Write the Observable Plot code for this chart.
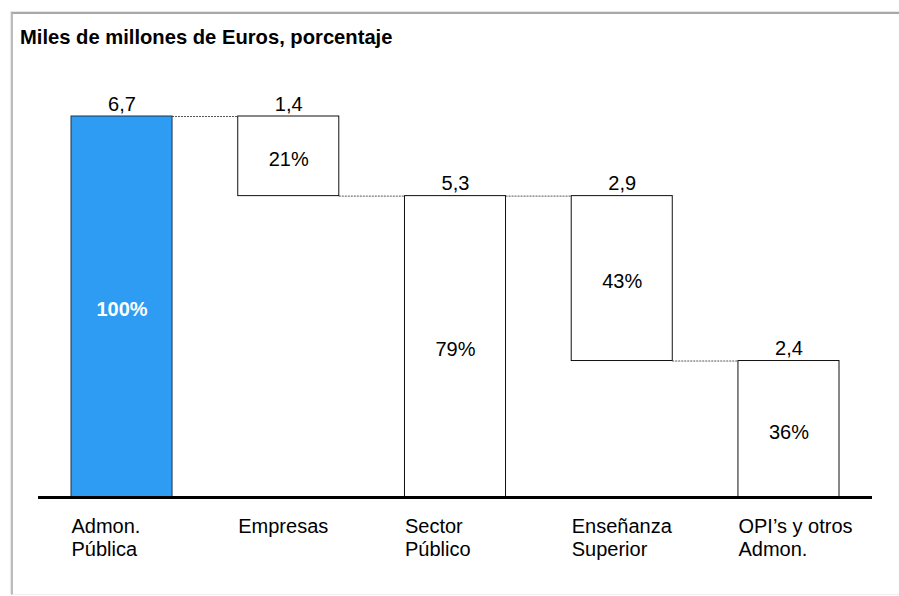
<!DOCTYPE html>
<html>
<head>
<meta charset="utf-8">
<script src="https://cdn.jsdelivr.net/npm/d3@7"></script>
<script src="https://cdn.jsdelivr.net/npm/@observablehq/plot@0.6"></script>
<style>
  html, body { margin: 0; padding: 0; background: #fff; }
  #wrap { position: relative; width: 899px; height: 596px; overflow: hidden; font-family: "Liberation Sans", Arial, Helvetica, sans-serif; }
  #frame { position: absolute; left: 11px; top: 12px; width: 900px; height: 580px;
           border-top: 2px solid #a8a8a8; border-left: 2px solid #bcbcbc; border-bottom: 1px solid #f0f0f0;
           box-shadow: -1px -1px 0 #e8e8e8; }
  #title { position: absolute; left: 20px; top: 26px; font-weight: bold; font-size: 20.2px; color: #000; white-space: nowrap; }
  #chart { position: absolute; left: 0; top: 60px; }
</style>
</head>
<body>
<div id="wrap">
  <div id="frame"></div>
  <div id="title">Miles de millones de Euros, porcentaje</div>
  <div id="chart"></div>
</div>
<script>
const categories = ["Admon.\nPública", "Empresas", "Sector\nPúblico", "Enseñanza\nSuperior", "OPI’s y otros\nAdmon."];
const values = [6.7, 1.4, 5.3, 2.9, 2.4];
const bottoms = [0, 5.3, 0, 2.4, 0];
const percents = ["100%", "21%", "79%", "43%", "36%"];
// connectors: [from category index, to category index, level]
const connectors = [[0, 1, 6.7], [1, 2, 5.3], [2, 3, 5.3], [3, 4, 2.4]];

const bars = categories.map((c, i) => ({
  cat: c, y1: bottoms[i], y2: bottoms[i] + values[i], value: values[i], pct: percents[i], total: i === 0
}));
const links = connectors.map(([a, b, lvl]) => ({ x1: categories[a], x2: categories[b], y: lvl }));
const fmt = v => String(v).replace(".", ",");
const bw = (839 - 71) / (5 - 0.394) * (1 - 0.394);

const plot = Plot.plot({
  width: 899,
  height: 536,
  marginLeft: 38,
  marginRight: 27,
  marginTop: 56,
  marginBottom: 99,
  style: { fontFamily: "'Liberation Sans', Arial, Helvetica, sans-serif", background: "transparent" },
  x: { type: "band", domain: categories, range: [71, 839], paddingInner: 0.394, paddingOuter: 0, round: false, axis: null },
  y: { domain: [0, 6.7], axis: null },
  marks: [
    Plot.ruleY(links, { y: "y", x1: "x1", x2: "x2", insetLeft: bw, insetRight: 0, stroke: "#555", strokeWidth: 1, strokeDasharray: "2,1" }),
    Plot.rectY(bars, { x: "cat", y1: "y1", y2: "y2", fill: d => d.total ? "#2D9CF2" : "#ffffff", stroke: d => d.total ? "#1d3550" : "#111", strokeWidth: 1 }),
    Plot.ruleY([0], { stroke: "#000", strokeWidth: 3 }),
    Plot.text(bars, { x: "cat", y: "y2", text: d => fmt(d.value), lineAnchor: "bottom", dy: -6, fontSize: 20, fill: "#000" }),
    Plot.text(bars.filter(d => !d.total), { x: "cat", y: d => (d.y1 + d.y2) / 2, text: "pct", dy: 3, fontSize: 20, fill: "#000" }),
    Plot.text(bars.filter(d => d.total), { x: "cat", y: d => (d.y1 + d.y2) / 2, text: "pct", dy: 3, fontSize: 20, fill: "#fff", fontWeight: "bold" }),
    Plot.text(bars, { x: "cat", y: 0, text: "cat", textAnchor: "start", lineAnchor: "top", dx: -bw / 2, dy: 19, fontSize: 20, lineHeight: 1.16, fill: "#000" })
  ]
});
document.getElementById("chart").appendChild(plot);
</script>
</body>
</html>
